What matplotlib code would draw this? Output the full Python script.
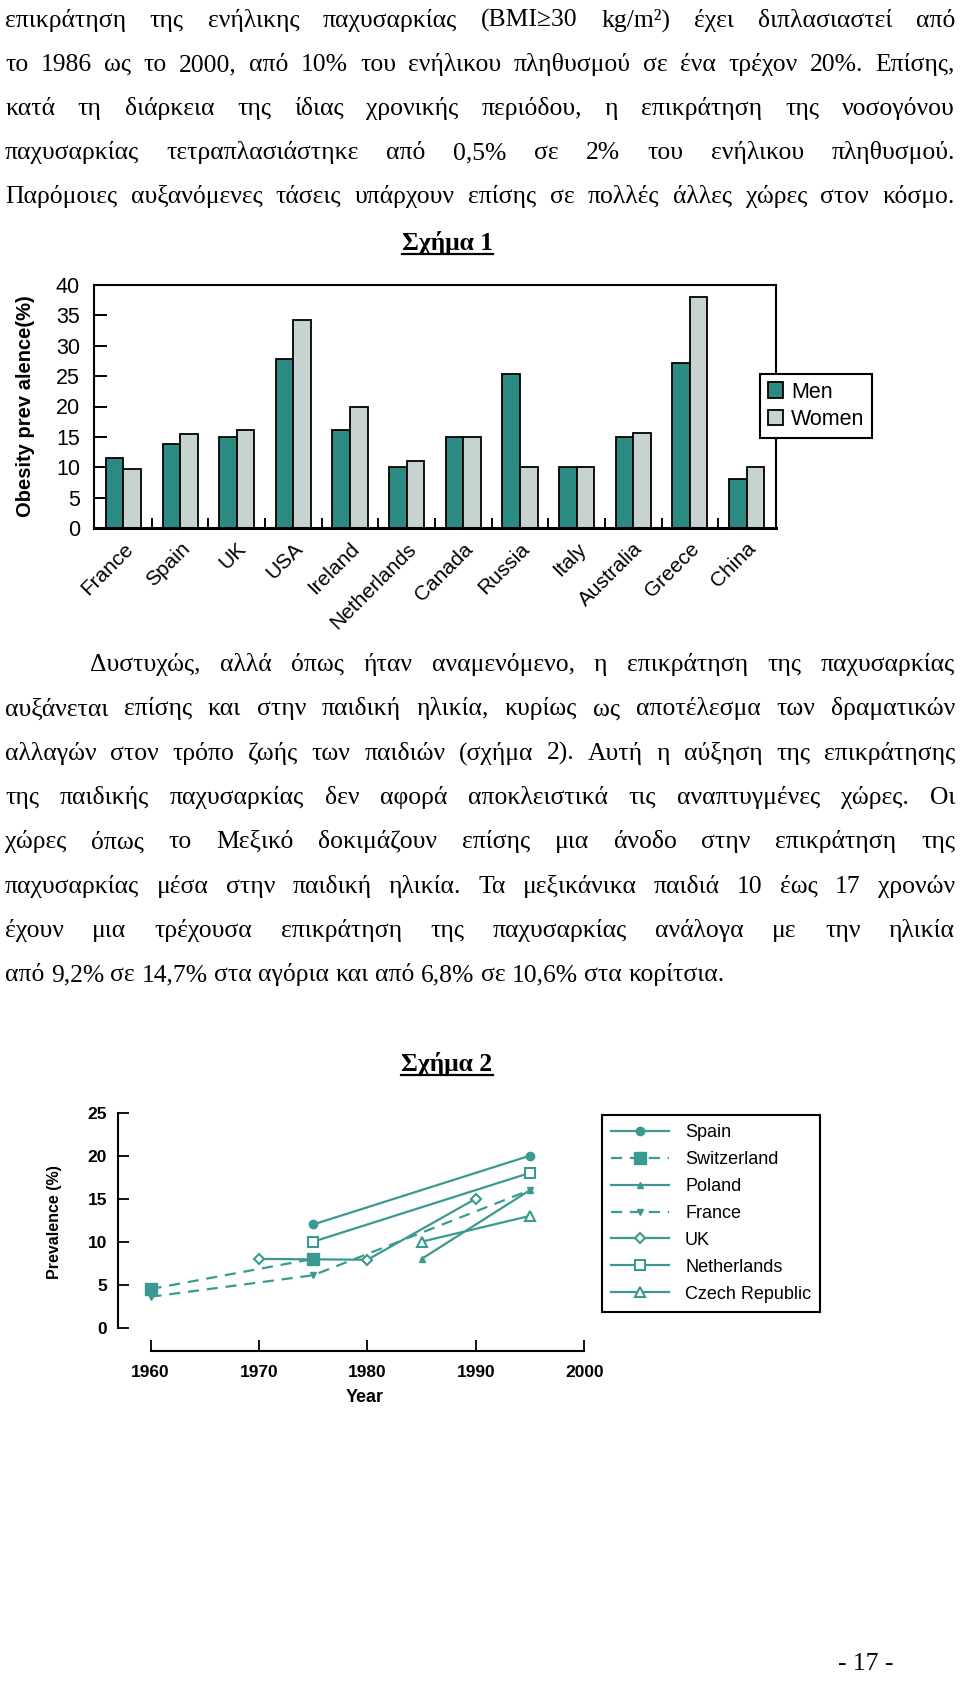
import matplotlib
matplotlib.use('Agg')
import matplotlib.pyplot as plt
from matplotlib.font_manager import FontProperties
from matplotlib.lines import Line2D
from matplotlib.patches import Patch
import numpy as np

W, H = 960, 1682
fig = plt.figure(figsize=(W / 100, H / 100), dpi=100)
fig.patch.set_facecolor('white')

# ---------------- data ----------------
countries = ["France", "Spain", "UK", "USA", "Ireland", "Netherlands", "Canada",
             "Russia", "Italy", "Australia", "Greece", "China"]
men = [11.6, 13.8, 14.9, 27.8, 16.2, 10.0, 15.0, 25.3, 10.0, 15.0, 27.2, 8.0]
women = [9.7, 15.5, 16.2, 34.2, 19.9, 11.0, 15.0, 10.0, 10.0, 15.6, 38.1, 10.0]
bar_yticks = [0, 5, 10, 15, 20, 25, 30, 35, 40]

spain_x, spain_y = [1975, 1995], [12, 20]
switz_x, switz_y = [1960, 1975], [4.5, 8]
poland_x, poland_y = [1985, 1995], [8, 16]
france_x, france_y = [1960, 1975, 1995], [3.6, 6.1, 16]
uk_x, uk_y = [1970, 1980, 1990], [8, 7.9, 15]
neth_x, neth_y = [1975, 1995], [10, 18]
czech_x, czech_y = [1985, 1995], [10, 13]
line_xticks = [1960, 1970, 1980, 1990, 2000]
line_yticks = [0, 5, 10, 15, 20, 25]

para1 = [
    "επικράτηση της ενήλικης παχυσαρκίας (BMI≥30 kg/m²) έχει διπλασιαστεί από",
    "το 1986 ως το 2000, από 10% του ενήλικου πληθυσμού σε ένα τρέχον 20%. Επίσης,",
    "κατά τη διάρκεια της ίδιας χρονικής περιόδου, η επικράτηση της νοσογόνου",
    "παχυσαρκίας τετραπλασιάστηκε από 0,5% σε 2% του ενήλικου πληθυσμού.",
    "Παρόμοιες αυξανόμενες τάσεις υπάρχουν επίσης σε πολλές άλλες χώρες στον κόσμο.",
]
para2 = [
    "Δυστυχώς, αλλά όπως ήταν αναμενόμενο, η επικράτηση της παχυσαρκίας",
    "αυξάνεται επίσης και στην παιδική ηλικία, κυρίως ως αποτέλεσμα των δραματικών",
    "αλλαγών στον τρόπο ζωής των παιδιών (σχήμα 2). Αυτή η αύξηση της επικράτησης",
    "της παιδικής παχυσαρκίας δεν αφορά αποκλειστικά τις αναπτυγμένες χώρες. Οι",
    "χώρες όπως το Μεξικό δοκιμάζουν επίσης μια άνοδο στην επικράτηση της",
    "παχυσαρκίας μέσα στην παιδική ηλικία. Τα μεξικάνικα παιδιά 10 έως 17 χρονών",
    "έχουν μια τρέχουσα επικράτηση της παχυσαρκίας ανάλογα με την ηλικία",
    "από 9,2% σε 14,7% στα αγόρια και από 6,8% σε 10,6% στα κορίτσια.",
]

teal = '#2B8A82'
light = '#C6D3D0'
lteal = '#3A9A92'

# ---------------- text helpers ----------------
renderer = fig.canvas.get_renderer()


def tw(s, prop):
    w, h, d = renderer.get_text_width_height_descent(s, prop, ismath=False)
    return w


serif = 'Liberation Serif'
p10 = FontProperties(family=serif, size=10)
size = 10 * 717.0 / tw(para2[-1], p10)
body = FontProperties(family=serif, size=size)
bold = FontProperties(family=serif, size=size, weight='bold')
space_w = tw("x x", body) - tw("xx", body)


def put_line(s, ybase, x0, x1, prop, justify=True):
    words = s.split(' ')
    widths = [tw(w, prop) for w in words]
    if justify and len(words) > 1:
        gap = (x1 - x0 - sum(widths)) / (len(words) - 1)
    else:
        gap = space_w
    x = x0
    for w, wd in zip(words, widths):
        fig.text(x / W, 1 - ybase / H, w, fontproperties=prop, ha='left', va='baseline')
        x += wd + gap


LX, RX = 5, 955
y0 = 27
for i, line in enumerate(para1):
    put_line(line, y0 + i * 44, LX, RX, body, justify=True)

y0 = 671
for i, line in enumerate(para2):
    x0 = 90 if i == 0 else LX
    put_line(line, y0 + i * 44.3, x0, RX, body, justify=(i < len(para2) - 1))


def title(s, xc, ybase):
    w = tw(s, bold)
    fig.text(xc / W, 1 - ybase / H, s, fontproperties=bold, ha='center', va='baseline')
    fig.add_artist(Line2D([(xc - w / 2) / W, (xc + w / 2) / W],
                          [1 - (ybase + 4) / H, 1 - (ybase + 4) / H],
                          color='black', lw=1.6, transform=fig.transFigure))


title("Σχήμα 1", 447, 250)
title("Σχήμα 2", 447, 1071)
fig.text(893 / W, 1 - 1670 / H, "- 17 -", fontproperties=body, ha='right', va='baseline')

# ---------------- bar chart ----------------
sans = 'Liberation Sans'
bx0, bx1, by0, by1 = 94, 776, 285, 528
ax1 = fig.add_axes([bx0 / W, 1 - by1 / H, (bx1 - bx0) / W, (by1 - by0) / H])
x = np.arange(len(countries))
bw = 0.31
ax1.bar(x - bw / 2, men, width=bw, color=teal, edgecolor='black', lw=1.3, label='Men')
ax1.bar(x + bw / 2, women, width=bw, color=light, edgecolor='black', lw=1.3, label='Women')
ax1.set_xlim(-0.52, len(countries) - 0.48)
ax1.set_ylim(0, 40)
ax1.set_yticks(bar_yticks)
ax1.set_yticklabels([str(v) for v in bar_yticks], fontfamily=sans, fontsize=15.5)
ax1.tick_params(axis='y', direction='in', length=9, width=1.4, pad=10)
ax1.set_xticks(x)
ax1.set_xticklabels(countries, rotation=45, ha='right', rotation_mode='anchor',
                    fontfamily=sans, fontsize=15)
ax1.tick_params(axis='x', which='major', length=0, pad=8)
ax1.set_xticks(x[:-1] + 0.5, minor=True)
ax1.tick_params(axis='x', which='minor', direction='in', length=7, width=1.4)
for sp in ax1.spines.values():
    sp.set_linewidth(1.5)
ax1.spines['bottom'].set_linewidth(2.2)
ax1.set_ylabel("Obesity prev alence(%)", fontfamily=sans, fontsize=14.5, fontweight='bold')
ax1.yaxis.set_label_coords((35 - bx0) / (bx1 - bx0), 0.5)
ax1.legend(handles=[Patch(facecolor=teal, edgecolor='black', lw=1.3, label='Men'),
                    Patch(facecolor=light, edgecolor='black', lw=1.3, label='Women')],
           loc='upper left', bbox_to_anchor=(760 / W, 1 - 374 / H),
           bbox_transform=fig.transFigure, frameon=True, fancybox=False,
           edgecolor='black', framealpha=1, prop=FontProperties(family=sans, size=15.5),
           handlelength=0.7, handleheight=0.7, handletextpad=0.4, labelspacing=0.3,
           borderpad=0.35, borderaxespad=0)
ax1.get_legend().get_frame().set_linewidth(1.5)

# ---------------- line chart ----------------
lx0, lx1, ly0, ly1 = 118, 606, 1110, 1351
ax2 = fig.add_axes([lx0 / W, 1 - ly1 / H, (lx1 - lx0) / W, (ly1 - ly0) / H])
ax2.set_xlim(1957, 2002)
ax2.set_ylim(-2.7, 25.3)
kw = dict(color=lteal, lw=1.6)
dash = (0, (5, 3.5))
ax2.plot(spain_x, spain_y, marker='o', ms=6, mfc=lteal, mec=lteal, label='Spain', **kw)
ax2.plot(switz_x, switz_y, marker='s', ms=9, mfc=lteal, mec=lteal, ls=dash, label='Switzerland', **kw)
ax2.plot(poland_x, poland_y, marker='^', ms=5, mfc=lteal, mec=lteal, label='Poland', **kw)
ax2.plot(france_x, france_y, marker='v', ms=5, mfc=lteal, mec=lteal, ls=dash, label='France', **kw)
ax2.plot(uk_x, uk_y, marker='D', ms=5, mfc='white', mec=lteal, mew=1.5, label='UK', **kw)
ax2.plot(neth_x, neth_y, marker='s', ms=7, mfc='white', mec=lteal, mew=1.5, label='Netherlands', **kw)
ax2.plot(czech_x, czech_y, marker='^', ms=7, mfc='white', mec=lteal, mew=1.5, label='Czech Republic', **kw)

ax2.spines['top'].set_visible(False)
ax2.spines['right'].set_visible(False)
ax2.spines['left'].set_bounds(0, 25)
ax2.spines['bottom'].set_bounds(1960, 2000)
ax2.spines['left'].set_linewidth(1.5)
ax2.spines['bottom'].set_linewidth(1.5)
ax2.set_xticks(line_xticks)
ax2.set_yticks(line_yticks)
ax2.set_xticklabels([str(v) for v in line_xticks], fontfamily=sans, fontsize=12.5, fontweight='bold')
ax2.set_yticklabels([str(v) for v in line_yticks], fontfamily=sans, fontsize=12.5, fontweight='bold')
ax2.tick_params(axis='both', direction='in', length=8, width=1.3)
ax2.tick_params(axis='x', pad=10)
ax2.tick_params(axis='y', pad=8)
ax2.set_xlabel("Year", fontfamily=sans, fontsize=13, fontweight='bold')
ax2.xaxis.set_label_coords((365 - lx0) / (lx1 - lx0), (ly1 - 1398) / (ly1 - ly0))
ax2.xaxis.label.set_va('center')
ax2.set_ylabel("Prevalence (%)", fontfamily=sans, fontsize=11.5, fontweight='bold')
ax2.yaxis.set_label_coords((62 - lx0) / (lx1 - lx0), (ly1 - 1222) / (ly1 - ly0))
leg = ax2.legend(loc='upper left', bbox_to_anchor=(602 / W, 1 - 1115 / H),
                 bbox_transform=fig.transFigure, frameon=True, fancybox=False,
                 edgecolor='black', framealpha=1, prop=FontProperties(family=sans, size=13),
                 handlelength=3.2, handletextpad=0.9, labelspacing=0.55,
                 borderpad=0.5, borderaxespad=0)
leg.get_frame().set_linewidth(1.5)

fig.savefig('out.png', dpi=100, facecolor='white')
